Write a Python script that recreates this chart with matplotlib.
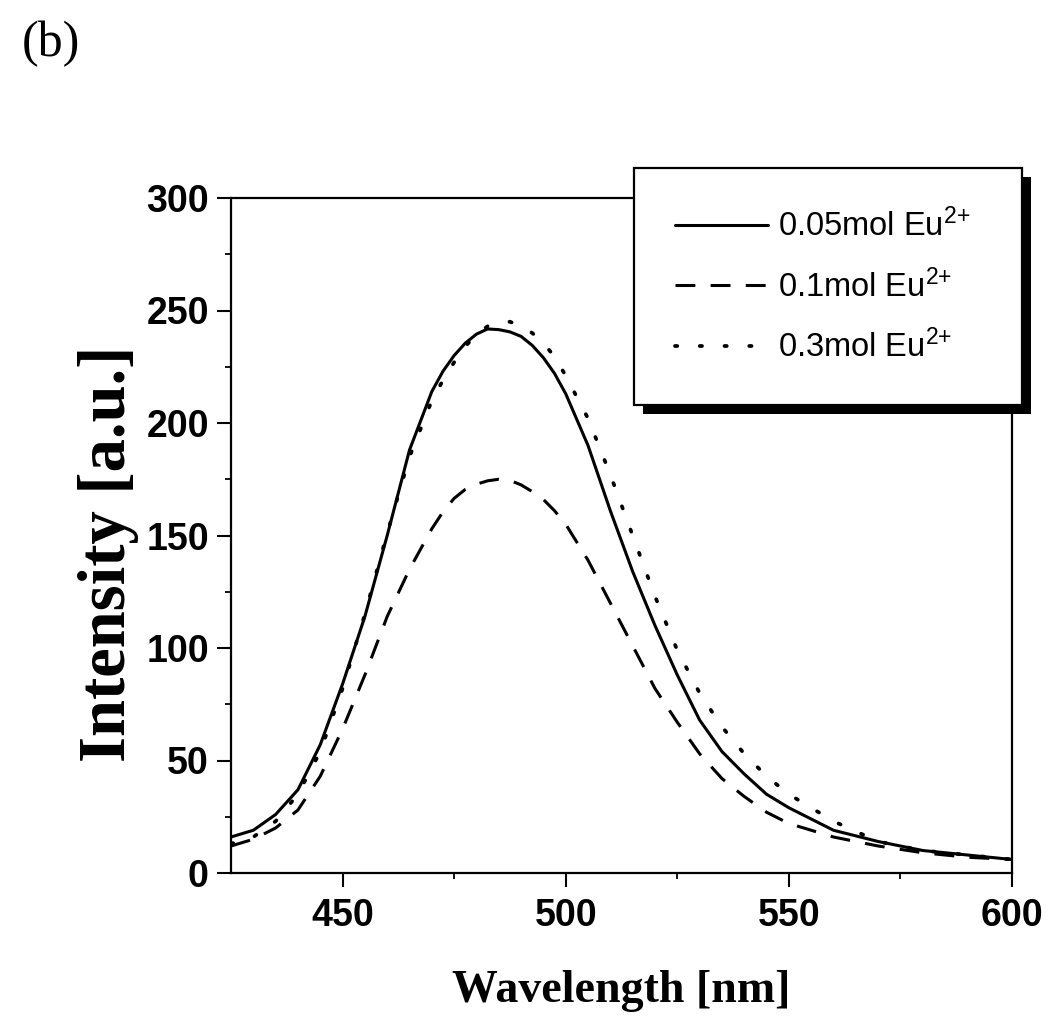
import matplotlib
matplotlib.use("Agg")
import matplotlib.pyplot as plt
from matplotlib.patches import Rectangle

# ---- data ----
wavelength = [425, 430, 435, 440, 445, 450, 455, 460, 465, 470, 472.5, 475,
              477.5, 480, 482.5, 485, 487.5, 490, 492.5, 495, 497.5, 500,
              505, 510, 515, 520, 525, 530, 535, 540, 545, 550,
              560, 570, 580, 590, 600]
i_005 = [16, 19, 26, 37, 57, 84, 114, 150, 188, 214, 223, 230,
         235.5, 239.5, 241.8, 241.5, 240.5, 238.5, 234.5, 229, 222, 213,
         190, 161, 134, 110, 88, 68, 54, 44, 35, 29,
         19, 14, 10, 8, 6]
i_01 = [12, 15, 20, 28, 43, 64, 88, 114, 135, 153, 160.5, 166.5,
        170.5, 172.8, 174.3, 175, 174.5, 172.5, 169.5, 166, 161, 155,
        139, 120, 101, 82, 67, 53, 42, 34, 27, 22,
        16, 12, 9, 7, 6]
i_03 = [13, 16, 23, 35, 54, 82, 115, 151, 185, 210, 219, 227,
        234, 239.5, 243, 244.5, 245, 243.2, 240, 235.5, 229.5, 221,
        202, 177, 150, 123, 99, 80, 65, 53, 43, 35,
        23, 14, 10, 8, 6]
labels = ["0.05mol Eu$^{2{+}}$", "0.1mol Eu$^{2{+}}$",
          "0.3mol Eu$^{2{+}}$"]
xticks = [450, 500, 550, 600]
yticks = [0, 50, 100, 150, 200, 250, 300]

plt.rcParams['mathtext.fontset'] = 'custom'
plt.rcParams['mathtext.rm'] = 'Liberation Sans'
plt.rcParams['mathtext.it'] = 'Liberation Sans'
plt.rcParams['mathtext.default'] = 'rm'

W, H = 1063, 1023
fig = plt.figure(figsize=(W / 100, H / 100), dpi=100)
ax = fig.add_axes([231 / W, 1 - 873 / H, (1012 - 231) / W, (873 - 198) / H])

lw = 2.2
ax.plot(wavelength, i_005, color='black', lw=lw, solid_capstyle='round',
        solid_joinstyle='round', label=labels[0])
ax.plot(wavelength, i_01, color='black', lw=lw, dashes=(6.5, 5),
        dash_capstyle='butt', label=labels[1])
ax.plot(wavelength, i_03, color='black', lw=lw + 0.5, dashes=(0.6, 6.0),
        dash_capstyle='round', label=labels[2])

ax.set_xlim(425, 600)
ax.set_ylim(0, 300)
ax.set_xticks(xticks)
ax.set_yticks(yticks)
ax.set_xticks([475, 525, 575], minor=True)
ax.set_yticks([25, 75, 125, 175, 225, 275], minor=True)

ax.tick_params(which='major', direction='out', length=10, width=1.5,
               labelsize=27, pad=6)
ax.tick_params(which='minor', direction='out', length=4.5, width=1.3)
ax.tick_params(axis='x', which='major', pad=8)
for lab in ax.get_xticklabels() + ax.get_yticklabels():
    lab.set_family('Liberation Sans')
    lab.set_fontweight('bold')

for sp in ax.spines.values():
    sp.set_linewidth(1.6)

ax.set_xlabel("Wavelength [nm]", family='Liberation Serif', fontweight='bold',
              fontsize=33)
ax.set_ylabel("Intensity [a.u.]", family='Liberation Serif', fontweight='bold',
              fontsize=48)
ax.xaxis.set_label_coords(0.5, (873 - 970) / 675)
ax.yaxis.set_label_coords((139 - 231) / 781, (873 - 554) / 675)

fig.text(22 / W, 1 - 44 / H, "(b)", family='Liberation Serif', fontsize=36,
         va='center', ha='left')

leg = fig.legend(loc='upper left',
                 bbox_to_anchor=(634 / W, 1 - 405 / H, (1022 - 634) / W,
                                 (405 - 168) / H),
                 bbox_transform=fig.transFigure, mode='expand',
                 frameon=True, fancybox=False,
                 edgecolor='black', framealpha=1, borderaxespad=0,
                 prop={'family': 'Liberation Sans', 'size': 23.5},
                 handlelength=2.85, handletextpad=0.3, borderpad=1.25,
                 labelspacing=0.8)
leg.get_frame().set_linewidth(1.6)
leg.set_zorder(6)

fig.canvas.draw()
bb = leg.get_window_extent()
off = 9
shadow = Rectangle(((bb.x0 + off) / W, (bb.y0 - off) / H), bb.width / W,
                   bb.height / H, transform=fig.transFigure, facecolor='black',
                   edgecolor='none', zorder=5.5)
fig.add_artist(shadow)

fig.savefig("out.png", dpi=100)
